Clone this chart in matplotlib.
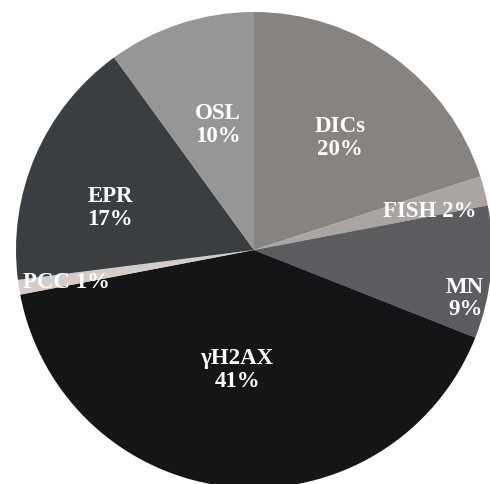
import numpy as np
from matplotlib import pyplot as plt

plt.rc('font', family='Liberation Serif', weight='bold')

labels = ['DICs', 'FISH', 'MN', '\u03b3H2AX', 'PCC', 'EPR', 'OSL']
values = [20, 2, 9, 41, 1, 17, 10]
colors = ['#878380', '#aba5a2', '#5b5c60', '#151517', '#d5ccc5', '#3b3e41', '#969696']

# label text layout (single line or two lines) and position in pie units
one_line = [False, True, False, False, True, False, False]
label_xy = [(0.361, 0.475), (0.74, 0.168), (0.887, -0.20), (-0.071, -0.50),
            (-0.79, -0.134), (-0.605, 0.18), (-0.151, 0.53)]

fig = plt.figure(figsize=(4.9, 4.85), dpi=100)
ax = fig.add_axes([16 / 490, -4 / 485, 476 / 490, 476 / 485])

ax.pie(values, colors=colors, startangle=90, counterclock=False,
       wedgeprops=dict(linewidth=0))

total = float(sum(values))
for name, v, single, (x, y) in zip(labels, values, one_line, label_xy):
    pct = '%d%%' % round(100 * v / total)
    txt = name + ' ' + pct if single else name + '\n' + pct
    ax.text(x, y, txt, ha='center', va='center', color='white',
            fontsize=16.5, fontweight='bold', linespacing=1.1)

ax.set_xlim(-1, 1)
ax.set_ylim(-1, 1)
ax.set_aspect('equal')
ax.axis('off')

fig.savefig('out.png', dpi=100)
